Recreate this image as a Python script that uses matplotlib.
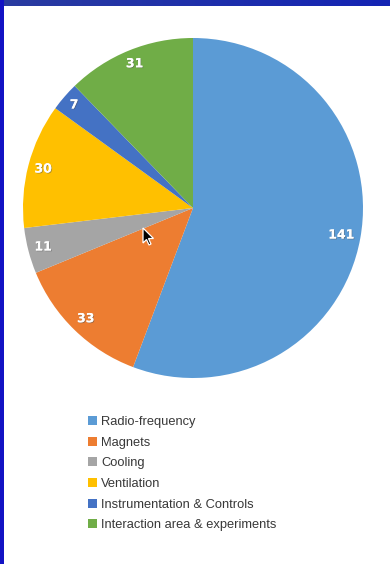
import numpy as np
import matplotlib
matplotlib.use("Agg")
import matplotlib.pyplot as plt
from matplotlib.patches import Rectangle, Polygon
import matplotlib.patheffects as pe

categories = ["Radio-frequency", "Magnets", "Cooling", "Ventilation",
              "Instrumentation & Controls", "Interaction area & experiments"]
values = [141, 33, 11, 30, 7, 31]
colors = ["#5B9BD5", "#ED7D31", "#A5A5A5", "#FFC000", "#4472C4", "#70AD47"]

W, H = 390, 564
fig = plt.figure(figsize=(W / 100, H / 100), dpi=100)
fig.patch.set_facecolor("white")

# slide frame: gradient bar along the top, solid bar down the left side
top = fig.add_axes([0, 1 - 6 / H, 1, 6 / H])
grad = np.linspace(0, 1, 256)[None, :, None]
c0 = np.array([0x2A, 0x3C, 0xA0]) / 255
c1 = np.array([0x14, 0x24, 0xB4]) / 255
top.imshow(c0 * (1 - grad) + c1 * grad, aspect="auto", extent=[0, 1, 0, 1])
top.axis("off")
fig.patches.append(Rectangle((0, 0), 4 / W, 1, transform=fig.transFigure,
                             facecolor="#1212C4", edgecolor="none", zorder=5))

# pie chart
cx, cy, r = 193, 208, 170
ax = fig.add_axes([(cx - r) / W, 1 - (cy + r) / H, 2 * r / W, 2 * r / H])
wedges, texts = ax.pie(values, colors=colors, startangle=90, counterclock=False,
                       labels=[str(v) for v in values], labeldistance=0.89,
                       wedgeprops=dict(linewidth=0, antialiased=True),
                       textprops=dict(color="white", fontweight="bold",
                                      fontsize=9, family="DejaVu Sans",
                                      ha="center", va="center"))
ax.set_xlim(-1, 1)
ax.set_ylim(-1, 1)
ax.set_aspect("equal")
ax.axis("off")

# "inside end" labels: push each label out until its box touches an inner ring
fig.canvas.draw()
renderer = fig.canvas.get_renderer()
inv = ax.transData.inverted()
edge = 0.97
for w, t in zip(wedges, texts):
    t.set_horizontalalignment("center")
    t.set_verticalalignment("center")
    theta = np.deg2rad((w.theta1 + w.theta2) / 2)
    bb = t.get_window_extent(renderer).transformed(inv)
    hw, hh = bb.width / 2, bb.height / 2
    d = edge - (hw * abs(np.cos(theta)) + hh * abs(np.sin(theta)))
    t.set_position((d * np.cos(theta), d * np.sin(theta)))
    t.set_path_effects([pe.withSimplePatchShadow(offset=(0.6, -0.6),
                                                 shadow_rgbFace="#555555",
                                                 alpha=0.5), pe.Normal()])

# mouse pointer resting over the chart
px, py = 143, 228
arrow = np.array([[0, 0], [0, 15], [3.5, 11.5], [6, 17], [8, 16],
                  [5.5, 10.5], [10.5, 10.5]])
pts = [((px + dx) / W, 1 - (py + dy) / H) for dx, dy in arrow]
fig.patches.append(Polygon(pts, closed=True, transform=fig.transFigure,
                           facecolor="black", edgecolor="white",
                           linewidth=0.9, zorder=10))

# legend
leg = fig.legend(wedges, categories, loc="upper left",
                 bbox_to_anchor=(88 / W, 1 - 416 / H), frameon=False,
                 handlelength=0.72, handleheight=0.72, handletextpad=0.3,
                 labelspacing=0.66, borderaxespad=0, borderpad=0,
                 prop=dict(family="Liberation Sans", size=9.3))
for txt in leg.get_texts():
    txt.set_color("#383838")

fig.savefig("out.png", dpi=100, facecolor="white")
